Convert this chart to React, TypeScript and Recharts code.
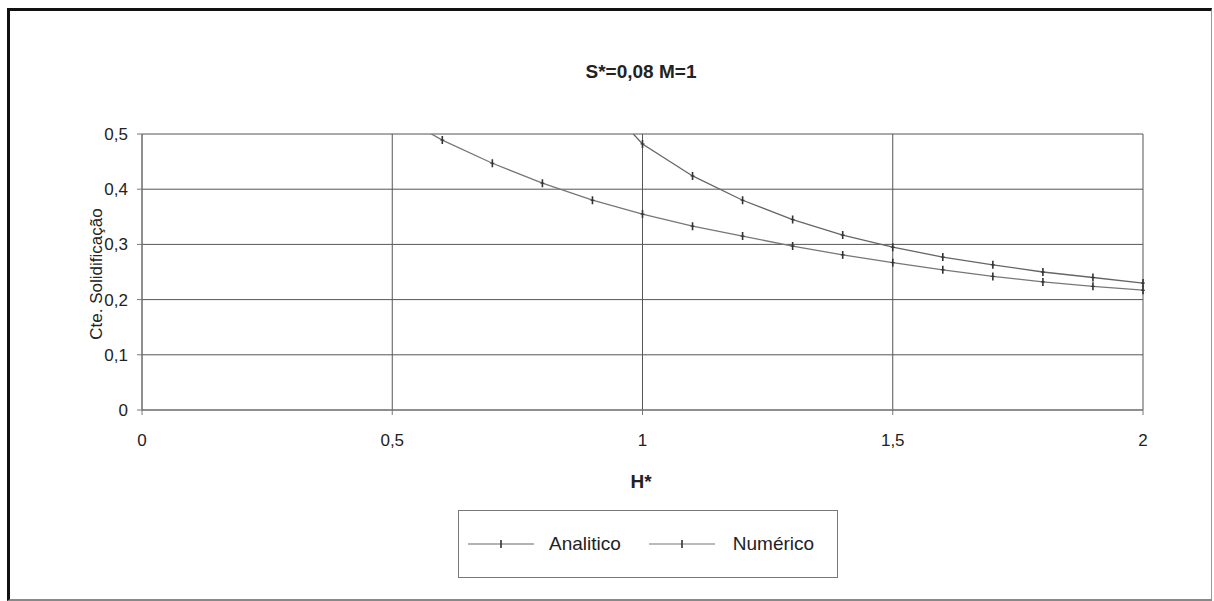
import { LineChart, Line, XAxis, YAxis, CartesianGrid } from 'recharts';

// H* sampled every 0.1; null where the curve is not drawn
const hStar = [0.5, 0.6, 0.7, 0.8, 0.9, 1.0, 1.1, 1.2, 1.3, 1.4, 1.5, 1.6, 1.7, 1.8, 1.9, 2.0];
const analitico = [null, null, null, null, 0.58, 0.482, 0.424, 0.38, 0.345, 0.317, 0.295, 0.277, 0.263, 0.25, 0.24, 0.23];
const numerico = [0.54, 0.489, 0.447, 0.411, 0.38, 0.355, 0.333, 0.315, 0.297, 0.281, 0.267, 0.254, 0.242, 0.232, 0.224, 0.217];

const xTicks = [0, 0.5, 1, 1.5, 2];
const yTicks = [0, 0.1, 0.2, 0.3, 0.4, 0.5];

const FONT = '"Liberation Sans", Arial, sans-serif';
const TEXT = '#222';
const LINE = '#777';

const data = hStar.map((h, i) => ({ h, analitico: analitico[i], numerico: numerico[i] }));

const comma = (v: number) => String(v).replace('.', ',');

function TickMark(props: any) {
  const { cx, cy, value } = props;
  if (value == null || cx == null || cy == null) return null;
  return (
    <g>
      <line x1={cx} y1={cy - 4} x2={cx} y2={cy + 4} stroke="#333" strokeWidth={1.6} />
      <line x1={cx - 2} y1={cy} x2={cx + 2} y2={cy} stroke="#333" strokeWidth={1} />
    </g>
  );
}

function LegendSample({ color }: { color: string }) {
  return (
    <svg width={66} height={14} style={{ display: 'block' }}>
      <line x1={0} y1={7} x2={66} y2={7} stroke={color} strokeWidth={1.2} />
      <line x1={33} y1={3} x2={33} y2={11} stroke="#333" strokeWidth={1.6} />
    </svg>
  );
}

export default function App() {
  return (
    <div style={{ position: 'absolute', left: 0, top: 0, width: 1214, height: 601, background: '#fff', fontFamily: FONT, color: TEXT }}>
      <div
        style={{
          position: 'absolute',
          left: 7,
          top: 8,
          width: 1201,
          height: 588,
          borderTop: '3px solid #111',
          borderLeft: '3px solid #111',
          borderRight: '1px solid #999',
          borderBottom: '2px solid #888',
        }}
      />
      <div style={{ position: 'absolute', left: 0, width: 1282, top: 61, textAlign: 'center', fontWeight: 'bold', fontSize: 19 }}>
        S*=0,08 M=1
      </div>
      <div
        style={{
          position: 'absolute',
          left: 97,
          top: 274,
          transform: 'translate(-50%, -50%) rotate(-90deg)',
          whiteSpace: 'nowrap',
          fontSize: 17,
          lineHeight: '18px',
        }}
      >
        Cte. Solidificação
      </div>
      <div style={{ position: 'absolute', left: 0, width: 1282, top: 471, textAlign: 'center', fontWeight: 'bold', fontSize: 19 }}>
        H*
      </div>

      <div style={{ position: 'absolute', left: 0, top: 0 }}>
        <LineChart width={1214} height={601} data={data} margin={{ top: 134, right: 71, left: 0, bottom: 0 }}>
          <CartesianGrid stroke="#555" strokeWidth={1} />
          <XAxis
            dataKey="h"
            type="number"
            domain={[0, 2]}
            ticks={xTicks}
            tickFormatter={comma}
            height={191}
            tickSize={5}
            tickMargin={19}
            axisLine={{ stroke: '#777' }}
            tickLine={{ stroke: '#777' }}
            tick={{ fontSize: 17, fill: TEXT, fontFamily: FONT }}
          />
          <YAxis
            type="number"
            domain={[0, 0.5]}
            allowDataOverflow
            ticks={yTicks}
            tickFormatter={comma}
            width={142}
            tickSize={5}
            tickMargin={9}
            axisLine={{ stroke: '#777' }}
            tickLine={{ stroke: '#777' }}
            tick={{ fontSize: 17, fill: TEXT, fontFamily: FONT }}
          />
          <Line
            dataKey="analitico"
            name="Analitico"
            stroke="#666"
            strokeWidth={1.3}
            dot={<TickMark />}
            activeDot={false}
            connectNulls={false}
            isAnimationActive={false}
          />
          <Line
            dataKey="numerico"
            name="Numérico"
            stroke={LINE}
            strokeWidth={1.3}
            dot={<TickMark />}
            activeDot={false}
            connectNulls={false}
            isAnimationActive={false}
          />
        </LineChart>
      </div>

      <div
        style={{
          position: 'absolute',
          left: 458,
          top: 510,
          width: 378,
          height: 66,
          border: '1px solid #777',
          display: 'flex',
          alignItems: 'center',
          fontSize: 19,
        }}
      >
        <div style={{ marginLeft: 9 }}>
          <LegendSample color="#666" />
        </div>
        <span style={{ marginLeft: 15 }}>Analitico</span>
        <div style={{ marginLeft: 28 }}>
          <LegendSample color={LINE} />
        </div>
        <span style={{ marginLeft: 18 }}>Numérico</span>
      </div>
    </div>
  );
}
